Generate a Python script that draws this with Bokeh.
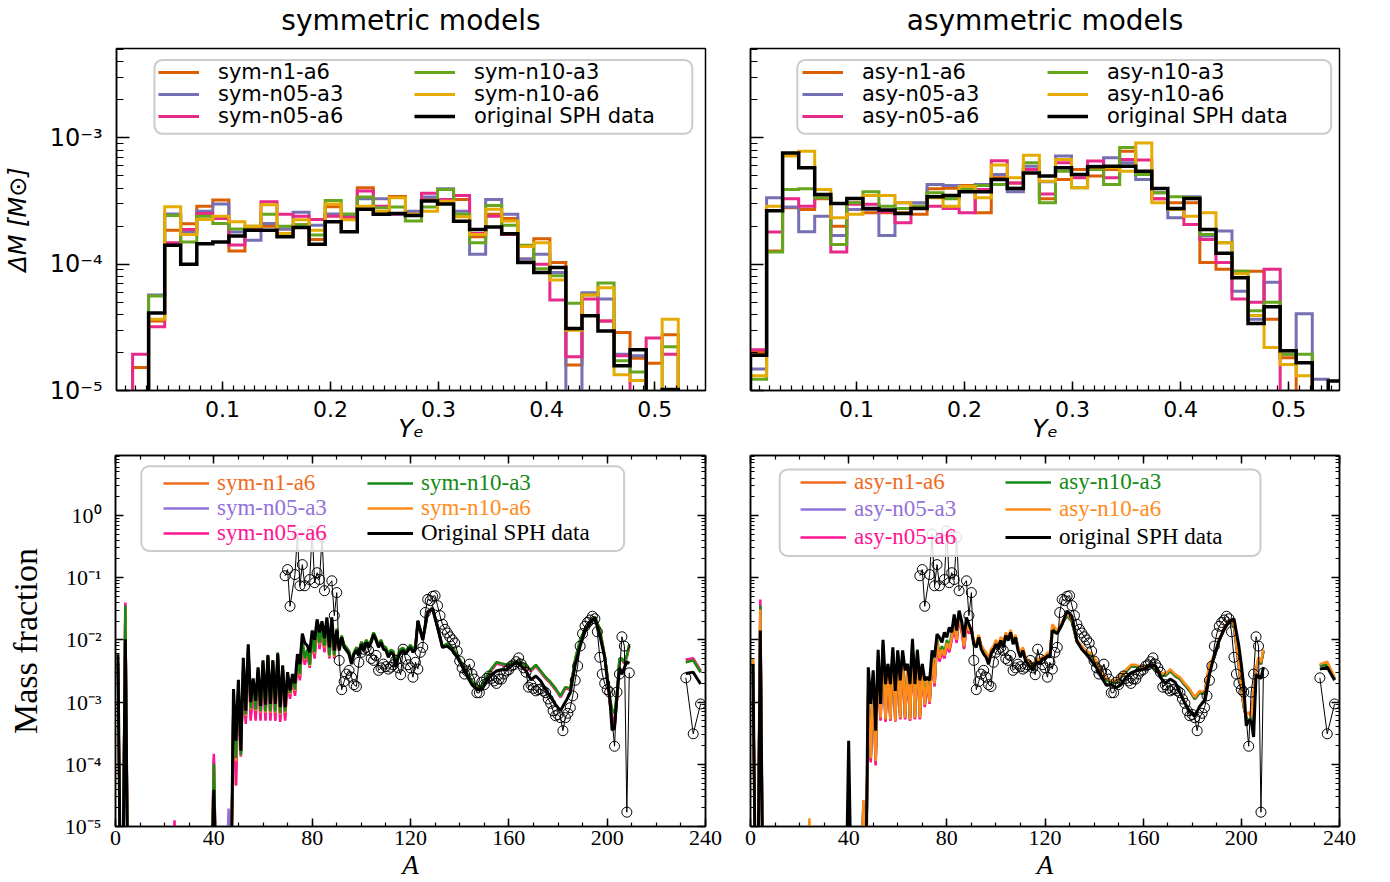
import numpy as np
from bokeh.plotting import figure
from bokeh.layouts import column, row
from bokeh.models import (Range1d, FixedTicker, CustomJSTickFormatter, Legend,
                          LegendItem, BoxAnnotation, LinearAxis, LogAxis)
from bokeh.embed import file_html
from bokeh.resources import INLINE

NAN = float("nan")

# ------------------------------------------------------------------ data
# Ye histogram bin edges
ye_edges = [0.0020, 0.0169, 0.0317, 0.0466, 0.0614, 0.0763, 0.0911, 0.1060, 0.1208, 0.1357,
            0.1505, 0.1654, 0.1802, 0.1951, 0.2099, 0.2248, 0.2396, 0.2545, 0.2693, 0.2842,
            0.2990, 0.3139, 0.3287, 0.3436, 0.3584, 0.3733, 0.3881, 0.4030, 0.4178, 0.4327,
            0.4475, 0.4624, 0.4772, 0.4921, 0.5069, 0.5218, 0.5366, 0.5515]

# Delta M per bin [Msun], symmetric models
hist_sym_n1a6 = [0, 1.52e-5, 3.55e-5, 1.86e-4, 2.09e-4, 2.88e-4, 3.22e-4, 1.27e-4, 1.88e-4, 2.0e-4,
                 1.9e-4, 2.05e-4, 1.57e-4, 2.85e-4, 2.35e-4, 4.03e-4, 2.48e-4, 3.44e-4, 2.48e-4, 3.3e-4,
                 3.25e-4, 3.25e-4, 1.65e-4, 2.48e-4, 2.3e-4, 1.1e-4, 1.59e-4, 1.03e-4, 1.59e-5, 5.8e-5,
                 3.55e-5, 2.88e-5, 1.8e-5, 1.64e-5, 2.76e-5, 0, 0]
hist_sym_n05a3 = [0, 0, 5.7e-5, 2.5e-4, 1.8e-4, 2.63e-4, 3.0e-4, 1.8e-4, 1.55e-4, 2.1e-4,
                  1.9e-4, 2.58e-4, 2.03e-4, 2.5e-4, 2.4e-4, 3.3e-4, 3.3e-4, 2.48e-4, 2.63e-4, 3.4e-4,
                  3.95e-4, 2.63e-4, 1.2e-4, 3.25e-4, 2.48e-4, 1.1e-4, 1.2e-4, 8.6e-5, 0, 5.95e-5,
                  5.3e-5, 1.94e-5, 1.88e-5, 0, 0, 0, 0]
hist_sym_n05a6 = [0, 1.94e-5, 3.2e-5, 1.48e-4, 1.88e-4, 2.52e-4, 2.3e-4, 1.42e-4, 1.86e-4, 3.12e-4,
                  2.48e-4, 2.4e-4, 2.26e-4, 2.4e-4, 2.35e-4, 3.8e-4, 2.88e-4, 2.5e-4, 2.48e-4, 3.65e-4,
                  3.25e-4, 3.5e-4, 1.75e-4, 2.4e-4, 1.72e-4, 1.03e-4, 1.0e-4, 5.2e-5, 1.85e-5, 5.3e-5,
                  3.55e-5, 1.88e-5, 0, 2.6e-5, 1.94e-5, 0, 0]
hist_sym_n10a3 = [0, 0, 5.6e-5, 2.43e-4, 1.5e-4, 2.4e-4, 2.1e-4, 1.9e-4, 2.0e-4, 2.48e-4,
                  2.0e-4, 2.05e-4, 1.7e-4, 3.2e-4, 2.5e-4, 3.4e-4, 2.8e-4, 2.83e-4, 2.2e-4, 2.83e-4,
                  3.9e-4, 2.48e-4, 1.48e-4, 2.92e-4, 2.03e-4, 1.41e-4, 9.2e-5, 8.1e-5, 4.9e-5, 5.7e-5,
                  7.1e-5, 1.72e-5, 1.4e-5, 0, 2.22e-5, 0, 0]
hist_sym_n10a6 = [0, 0, 3.66e-5, 2.85e-4, 1.72e-4, 2.26e-4, 2.4e-4, 2.17e-4, 2.0e-4, 2.95e-4,
                  1.75e-4, 2.25e-4, 1.86e-4, 3.0e-4, 2.25e-4, 2.88e-4, 2.63e-4, 3.35e-4, 2.48e-4, 2.63e-4,
                  3.15e-4, 2.37e-4, 1.72e-4, 2.72e-4, 2.2e-4, 1.38e-4, 1.48e-4, 7.5e-5, 3.0e-5, 5.7e-5,
                  6.5e-5, 1.33e-5, 1.2e-5, 0, 3.66e-5, 0, 0]
hist_sym_sph = [0, 0, 4.1e-5, 1.41e-4, 1.0e-4, 1.45e-4, 1.5e-4, 1.67e-4, 1.86e-4, 1.86e-4,
                1.65e-4, 1.95e-4, 1.44e-4, 2.17e-4, 1.81e-4, 2.72e-4, 2.48e-4, 2.52e-4, 2.43e-4, 3.16e-4,
                3.0e-4, 2.19e-4, 1.88e-4, 1.97e-4, 1.74e-4, 1.03e-4, 8.6e-5, 9.4e-5, 3.1e-5, 3.9e-5,
                2.96e-5, 1.57e-5, 2.1e-5, 0, 1.02e-5, 0, 0]

# Delta M per bin [Msun], asymmetric models
hist_asy_n1a6 = [2.0e-5, 1.27e-4, 2.8e-4, 2.71e-4, 3.3e-4, 2.0e-4, 3.06e-4, 2.55e-4, 2.55e-4, 2.55e-4,
                 2.48e-4, 3.95e-4, 4.0e-4, 4.2e-4, 2.55e-4, 4.83e-4, 4.4e-4, 5.62e-4, 3.3e-4, 4.68e-4,
                 5.62e-4, 4.98e-4, 5.62e-4, 7.85e-4, 5.13e-4, 3.3e-4, 3.06e-4, 3.06e-4, 1.03e-4, 9.1e-5,
                 8.8e-5, 8.8e-5, 3.66e-5, 1.82e-5, 0, 0, 0]
hist_asy_n05a3 = [1.48e-5, 3.36e-4, 2.83e-4, 1.81e-4, 2.4e-4, 1.69e-4, 2.71e-4, 2.71e-4, 1.69e-4, 3.06e-4,
                  3.06e-4, 4.27e-4, 4.2e-4, 3.9e-4, 4.27e-4, 5.13e-4, 3.74e-4, 5.97e-4, 4.5e-4, 7.17e-4,
                  5.13e-4, 5.97e-4, 6.95e-4, 6.34e-4, 4.68e-4, 3.67e-4, 2.33e-4, 3.42e-4, 1.67e-4, 1.83e-4,
                  6.1e-5, 3.66e-5, 7.2e-5, 1.94e-5, 4.05e-5, 1.23e-5, 0]
hist_asy_n05a6 = [2.1e-5, 1.8e-4, 3.3e-4, 2.88e-4, 3.36e-4, 1.25e-4, 2.98e-4, 2.98e-4, 2.6e-4, 2.13e-4,
                  2.88e-4, 2.88e-4, 2.76e-4, 2.55e-4, 3.9e-4, 6.6e-4, 4.4e-4, 5.62e-4, 3.6e-4, 6.34e-4,
                  4.83e-4, 6.55e-4, 4.83e-4, 6.74e-4, 6.67e-4, 3.3e-4, 2.71e-4, 2.06e-4, 1.57e-4, 1.03e-4,
                  5.3e-5, 5.0e-5, 9.1e-5, 0, 0, 0, 0]
hist_asy_n10a3 = [1.23e-5, 1.25e-4, 3.9e-4, 3.95e-4, 3.36e-4, 1.43e-4, 3.06e-4, 3.75e-4, 2.88e-4, 2.76e-4,
                  2.88e-4, 3.67e-4, 3.3e-4, 3.9e-4, 4.2e-4, 4.27e-4, 4.0e-4, 6.34e-4, 3.06e-4, 5.45e-4,
                  4.03e-4, 5.62e-4, 4.27e-4, 8.4e-4, 5.13e-4, 3.67e-4, 3.42e-4, 3.36e-4, 1.72e-4, 1.48e-4,
                  8.8e-5, 4.27e-5, 5.0e-5, 1.94e-5, 1.94e-5, 0, 0]
hist_asy_n10a6 = [1.31e-5, 2.88e-4, 7.17e-4, 7.85e-4, 3.9e-4, 2.33e-4, 2.48e-4, 3.5e-4, 3.5e-4, 3.06e-4,
                  2.76e-4, 3.36e-4, 2.88e-4, 4.13e-4, 3.36e-4, 6.1e-4, 4.83e-4, 7.3e-4, 4.54e-4, 6.74e-4,
                  4.03e-4, 5.8e-4, 5.8e-4, 5.45e-4, 9.1e-4, 3.06e-4, 2.71e-4, 2.4e-4, 2.55e-4, 1.48e-4,
                  8.4e-5, 3.93e-5, 2.19e-5, 1.61e-5, 1.31e-5, 0, 0]
hist_asy_sph = [1.9e-5, 2.65e-4, 7.6e-4, 5.8e-4, 3.57e-4, 3.03e-4, 3.31e-4, 2.76e-4, 2.68e-4, 2.52e-4,
                2.76e-4, 3.42e-4, 3.5e-4, 3.74e-4, 3.74e-4, 4.68e-4, 3.98e-4, 5.28e-4, 4.98e-4, 5.8e-4,
                5.13e-4, 5.9e-4, 5.97e-4, 5.97e-4, 5.45e-4, 3.98e-4, 2.76e-4, 3.31e-4, 1.88e-4, 1.22e-4,
                7.8e-5, 3.39e-5, 4.6e-5, 2.06e-5, 1.66e-5, 0, 1.19e-5]

# Mass number grid for abundance curves (low part, high part)
A_low = [1, 2, 3, 4, 5, 23, 24, 25, 39, 40, 41, 45, 46, 47] + list(range(48, 90))
A_high = list(range(90, 124)) + list(range(125, 198, 2)) + list(range(199, 210)) + [220, 232, 235, 238]

# log10(mass fraction), symmetric models (-6 = below plotted range)
sym_sph_low = [-2.23, -6, -6, -1.99, -6, -6, -6, -6, -6, -4.41, -6, -6, -6, -6,
               -2.79, -3.62, -2.64, -3.78, -2.29, -3.14, -2.07, -3.00, -2.62, -2.98,
               -2.44, -3.06, -2.33, -3.04, -2.25, -3.03, -2.33, -3.03, -2.22, -3.08,
               -2.41, -3.08, -2.52, -2.81, -2.55, -2.70, -2.23, -2.39, -1.90, -2.05,
               -2.09, -2.20, -1.85, -2.00, -1.67, -1.88, -1.70, -1.97, -1.64, -2.12,
               -1.64, -2.17]
sym_n10a3_low = [-2.35, -6, -6, -1.45, -6, -6, -6, -6, -6, -3.99, -6, -6, -6, -6,
                 -2.85, -3.90, -2.70, -3.85, -2.35, -3.20, -2.10, -3.10, -2.65, -3.12,
                 -2.46, -3.15, -2.35, -3.15, -2.24, -3.15, -2.33, -3.15, -2.20, -3.18,
                 -2.42, -3.15, -2.55, -2.85, -2.58, -2.80, -2.30, -2.55, -2.00, -2.30,
                 -2.15, -2.40, -1.95, -2.20, -1.72, -2.05, -1.80, -2.10, -1.70, -2.25,
                 -1.72, -2.25]
sym_n10a6_low = [-2.36, -6, -6, -1.47, -6, -6, -6, -6, -6, -4.00, -6, -6, -6, -6,
                 -2.86, -3.95, -2.71, -3.86, -2.36, -3.22, -2.11, -3.12, -2.66, -3.14,
                 -2.47, -3.17, -2.36, -3.17, -2.25, -3.17, -2.34, -3.17, -2.21, -3.20,
                 -2.43, -3.17, -2.56, -2.87, -2.59, -2.82, -2.31, -2.57, -2.01, -2.32,
                 -2.16, -2.42, -1.96, -2.22, -1.73, -2.07, -1.81, -2.12, -1.71, -2.27,
                 -1.73, -2.27]
sym_n05a6_low = [-2.40, -6, -6, -1.40, -6, -6, -4.90, -6, -6, -3.83, -6, -6, -6, -6,
                 -2.90, -4.34, -2.75, -3.88, -2.40, -3.35, -2.15, -3.30, -2.70, -3.30,
                 -2.50, -3.30, -2.38, -3.30, -2.27, -3.30, -2.36, -3.30, -2.24, -3.32,
                 -2.45, -3.30, -2.58, -2.95, -2.62, -2.90, -2.35, -2.65, -2.05, -2.40,
                 -2.20, -2.45, -2.00, -2.30, -1.76, -2.15, -1.84, -2.20, -1.74, -2.30,
                 -1.75, -2.30]
sym_n05a3_low = [-2.38, -6, -6, -1.42, -6, -6, -6, -6, -6, -3.90, -6, -6, -4.71, -6,
                 -2.88, -4.10, -2.72, -3.86, -2.38, -3.28, -2.12, -3.22, -2.68, -3.22,
                 -2.48, -3.22, -2.36, -3.22, -2.26, -3.22, -2.34, -3.22, -2.22, -3.25,
                 -2.44, -3.22, -2.56, -2.90, -2.60, -2.85, -2.32, -2.60, -2.02, -2.35,
                 -2.18, -2.42, -1.98, -2.25, -1.74, -2.10, -1.82, -2.15, -1.72, -2.28,
                 -1.74, -2.28]
sym_n1a6_low = [-2.42, -6, -6, -1.50, -6, -6, -6, -6, -6, -3.95, -6, -6, -5.20, -6,
                -2.90, -4.34, -2.74, -3.80, -2.40, -3.30, -2.14, -3.28, -2.70, -3.28,
                -2.50, -3.28, -2.38, -3.28, -2.27, -3.28, -2.36, -3.30, -2.23, -3.30,
                -2.45, -3.28, -2.58, -2.92, -2.60, -2.88, -2.34, -2.62, -2.04, -2.38,
                -2.18, -2.44, -2.00, -2.28, -1.75, -2.12, -1.83, -2.18, -1.73, -2.28,
                -1.74, -2.28]
sym_sph_high = [-1.85, -2.17, -1.96, -2.12, -2.17, -2.23, -2.39, -2.23, -2.17, -2.25,
                -2.07, -2.17, -2.04, -2.12, -2.04, -1.91, -2.01, -2.12, -2.04, -2.15,
                -2.17, -2.28, -2.20, -2.23, -2.44, -2.28, -2.20, -2.17, -2.23, -2.17,
                -2.12, -2.20, -2.15, -1.69,
                -2.00, -1.55, -1.50, -1.80, -2.12, -2.10, -2.17, -2.28, -2.42, -2.58,
                -2.72, -2.80, -2.80, -2.66, -2.56, -2.50, -2.48, -2.48, -2.42, -2.36,
                -2.42, -2.50, -2.64, -2.58, -2.66, -2.80, -2.92, -3.04, -3.14, -3.00,
                -2.85, -2.40, -2.10, -1.86, -1.73, -1.64, -1.93,
                -2.28, -2.62, -2.90, -3.45, -3.42, -2.90, -2.45, -2.55, -2.45, -2.35, -2.38,
                NAN, -2.54, -2.52, -2.71]
sym_models_high = [-1.82, -2.12, -1.93, -2.08, -2.12, -2.18, -2.33, -2.20, -2.12, -2.20,
                   -2.03, -2.12, -2.00, -2.08, -2.00, -1.88, -1.97, -2.08, -2.00, -2.10,
                   -2.12, -2.22, -2.16, -2.18, -2.36, -2.22, -2.15, -2.13, -2.18, -2.13,
                   -2.08, -2.15, -2.10, -1.70,
                   -1.98, -1.55, -1.48, -1.78, -2.10, -2.06, -2.12, -2.24, -2.38, -2.54,
                   -2.66, -2.74, -2.74, -2.58, -2.46, -2.36, -2.38, -2.40, -2.38, -2.35,
                   -2.36, -2.42, -2.48, -2.40, -2.50, -2.60, -2.68, -2.78, -2.90, -2.76,
                   -2.78, -2.31, -2.00, -1.82, -1.70, -1.63, -1.82,
                   -2.25, -2.55, -2.92, -3.12, -3.18, -2.85, -2.30, -2.30, -2.36, -2.25, -2.07,
                   NAN, -2.36, -2.33, -2.52]
sym_models_high_b = [-1.84, -2.14, -1.95, -2.10, -2.14, -2.20, -2.35, -2.22, -2.14, -2.22,
                     -2.05, -2.14, -2.02, -2.10, -2.02, -1.90, -1.99, -2.10, -2.02, -2.12,
                     -2.14, -2.24, -2.18, -2.20, -2.38, -2.24, -2.17, -2.15, -2.20, -2.15,
                     -2.10, -2.17, -2.12, -1.72,
                     -2.00, -1.57, -1.50, -1.80, -2.12, -2.08, -2.14, -2.26, -2.40, -2.56,
                     -2.68, -2.76, -2.76, -2.60, -2.48, -2.38, -2.40, -2.42, -2.40, -2.37,
                     -2.38, -2.44, -2.50, -2.42, -2.52, -2.62, -2.70, -2.80, -2.92, -2.78,
                     -2.80, -2.33, -2.02, -1.84, -1.72, -1.64, -1.84,
                     -2.27, -2.57, -3.00, -3.22, -3.40, -2.95, -2.32, -2.32, -2.38, -2.27, -2.10,
                     NAN, -2.32, -2.30, -2.50]

# log10(mass fraction), asymmetric models
asy_sph_low = [-2.39, -6, -6, -1.85, -6, -6, -6, -6, -6, -3.62, -6, -6, -6, -6,
               -2.44, -3.03, -2.49, -3.46, -2.16, -3.03, -2.00, -2.71, -2.39, -2.71,
               -2.12, -2.82, -2.17, -2.65, -2.17, -2.49, -2.39, -2.71, -1.99, -2.71,
               -2.17, -2.65, -2.39, -2.65, -2.60, -2.65, -2.17, -2.28, -1.91, -1.96,
               -2.04, -1.88, -1.96, -1.80, -1.88, -1.59, -1.85, -1.53, -1.69, -1.96,
               -1.64, -1.75]
asy_n10a6_low = [-2.31, -6, -6, -1.51, -6, -6, -4.87, -6, -6, -4.70, -6, -6, -4.58, -6,
                 -2.75, -3.90, -2.60, -3.95, -2.30, -3.25, -2.10, -3.28, -2.45, -3.28,
                 -2.20, -3.30, -2.22, -3.25, -2.22, -3.25, -2.42, -3.28, -2.02, -3.25,
                 -2.20, -3.25, -2.42, -3.05, -2.65, -3.00, -2.25, -2.70, -2.00, -2.30,
                 -2.15, -2.25, -2.05, -2.15, -1.95, -1.75, -2.00, -1.62, -1.80, -2.10,
                 -1.75, -1.85]
asy_n05a6_low = [-2.40, -6, -6, -1.35, -6, -6, -6, -6, -6, -4.80, -6, -6, -4.70, -6,
                 -2.80, -3.97, -2.65, -4.02, -2.35, -3.30, -2.15, -3.32, -2.50, -3.30,
                 -2.25, -3.30, -2.27, -3.28, -2.27, -3.28, -2.46, -3.30, -2.07, -3.28,
                 -2.25, -3.28, -2.46, -3.08, -2.70, -3.03, -2.30, -2.75, -2.05, -2.35,
                 -2.20, -2.30, -2.10, -2.20, -2.00, -1.80, -2.05, -1.65, -1.85, -2.15,
                 -1.80, -1.90]
asy_n10a3_low = [-2.31, -6, -6, -1.45, -6, -6, -6, -6, -6, -4.75, -6, -6, -4.65, -6,
                 -2.72, -3.88, -2.55, -3.90, -2.25, -3.22, -2.05, -3.25, -2.38, -3.25,
                 -2.15, -3.27, -2.18, -3.22, -2.18, -3.22, -2.38, -3.25, -1.98, -3.22,
                 -2.15, -3.22, -2.38, -3.02, -2.62, -2.97, -2.20, -2.65, -1.96, -2.25,
                 -2.10, -2.20, -2.00, -2.10, -1.90, -1.72, -1.95, -1.60, -1.76, -2.05,
                 -1.72, -1.82]
asy_n05a3_low = [-2.36, -6, -6, -1.48, -6, -6, -6, -6, -6, -4.72, -6, -6, -4.58, -6,
                 -2.78, -3.93, -2.62, -3.98, -2.32, -3.27, -2.12, -3.30, -2.47, -3.29,
                 -2.22, -3.31, -2.24, -3.26, -2.24, -3.26, -2.44, -3.29, -2.04, -3.26,
                 -2.22, -3.26, -2.44, -3.06, -2.67, -3.01, -2.27, -2.72, -2.02, -2.32,
                 -2.17, -2.27, -2.07, -2.17, -1.97, -1.77, -2.02, -1.63, -1.82, -2.12,
                 -1.77, -1.87]
asy_n1a6_low = [-2.38, -6, -6, -1.55, -6, -6, -6, -6, -6, -4.75, -6, -6, -5.00, -6,
                -2.78, -3.95, -2.63, -4.00, -2.33, -3.28, -2.13, -3.30, -2.48, -3.30,
                -2.23, -3.32, -2.25, -3.27, -2.25, -3.27, -2.45, -3.30, -2.05, -3.27,
                -2.23, -3.27, -2.45, -3.07, -2.68, -3.02, -2.28, -2.73, -2.03, -2.33,
                -2.18, -2.28, -2.08, -2.18, -1.98, -1.78, -2.03, -1.64, -1.83, -2.13,
                -1.78, -1.88]
asy_sph_high = [-1.85, -2.07, -2.12, -1.96, -2.15, -2.23, -2.28, -2.39, -2.23, -2.17,
                -2.07, -2.15, -2.01, -2.12, -1.93, -2.01, -1.88, -2.07, -1.96, -2.17,
                -2.28, -2.17, -2.33, -2.39, -2.44, -2.49, -2.39, -2.36, -2.39, -2.30,
                -2.31, -2.25, -2.28, -1.85,
                -1.90, -1.75, -1.53, -1.62, -2.02, -2.15, -2.24, -2.34, -2.45, -2.60,
                -2.73, -2.72, -2.77, -2.72, -2.60, -2.53, -2.50, -2.48, -2.46, -2.40,
                -2.42, -2.60, -2.70, -2.63, -2.68, -2.85, -3.02, -3.15, -3.23, -3.07,
                -2.97, -2.55, -2.25, -2.00, -1.83, -1.71, -1.66,
                -2.10, -2.40, -2.75, -3.38, -3.30, -3.30, -3.56, -2.55, -2.60, -2.62, -2.44,
                NAN, -2.47, -2.44, -2.65]
asy_models_high = [-1.80, -2.02, -2.05, -1.92, -2.08, -2.15, -2.20, -2.30, -2.15, -2.10,
                   -2.00, -2.08, -1.95, -2.05, -1.88, -1.96, -1.84, -2.00, -1.92, -2.10,
                   -2.20, -2.12, -2.27, -2.32, -2.38, -2.42, -2.33, -2.30, -2.33, -2.26,
                   -2.27, -2.20, -2.22, -1.75,
                   -1.85, -1.70, -1.58, -1.68, -2.00, -2.10, -2.18, -2.22, -2.35, -2.50,
                   -2.62, -2.65, -2.66, -2.55, -2.48, -2.40, -2.40, -2.44, -2.42, -2.39,
                   -2.45, -2.52, -2.55, -2.47, -2.55, -2.60, -2.70, -2.79, -2.92, -2.82,
                   -2.84, -2.39, -2.25, -1.98, -1.80, -1.67, -1.75,
                   -2.40, -2.75, -3.05, -3.22, -3.16, -3.24, -2.85, -2.45, -2.28, -2.36, -2.15,
                   NAN, -2.39, -2.35, -2.60]
asy_models_high_b = [-1.83, -2.05, -2.08, -1.95, -2.11, -2.18, -2.23, -2.33, -2.18, -2.13,
                     -2.03, -2.11, -1.98, -2.08, -1.91, -1.99, -1.87, -2.03, -1.95, -2.13,
                     -2.23, -2.15, -2.30, -2.35, -2.41, -2.45, -2.36, -2.33, -2.36, -2.29,
                     -2.30, -2.23, -2.25, -1.78,
                     -1.88, -1.73, -1.61, -1.71, -2.03, -2.13, -2.21, -2.25, -2.38, -2.53,
                     -2.65, -2.68, -2.69, -2.58, -2.51, -2.43, -2.43, -2.47, -2.45, -2.42,
                     -2.48, -2.55, -2.58, -2.50, -2.58, -2.63, -2.73, -2.82, -2.95, -2.85,
                     -2.87, -2.42, -2.28, -2.01, -1.83, -1.70, -1.78,
                     -2.43, -2.78, -3.08, -3.25, -3.30, -3.30, -2.90, -2.48, -2.31, -2.39, -2.18,
                     NAN, -2.42, -2.38, -2.63]

# reference abundances (open circles): mass number and log10(mass fraction)
circ_A = [69, 70, 71, 73, 74, 75, 76, 77, 79, 80, 81, 82, 83, 84, 85, 88, 89, 90, 91, 92,
          93, 94, 95, 96, 97, 98, 99, 100, 101, 102, 103, 104, 105, 106, 107, 108, 109, 110, 111, 112,
          113, 114, 115, 116, 117, 118, 119, 120, 121, 122, 123, 124, 125, 126, 127, 128, 129, 130, 131, 132,
          133, 134, 135, 136, 137, 138, 139, 140, 141, 142, 143, 144, 145, 146, 147, 148, 149, 150, 151, 152,
          153, 154, 155, 156, 157, 158, 159, 160, 161, 162, 163, 164, 165, 166, 167, 168, 169, 170, 171, 172,
          173, 174, 175, 176, 177, 178, 179, 180, 181, 182, 183, 184, 185, 186, 187, 188, 189, 190, 191, 192,
          193, 194, 195, 196, 197, 198, 199, 200, 201, 203, 204, 205, 206, 207, 208, 209, 220, 232, 235, 238]
circ_log = [-0.97, -0.87, -1.46, -0.95, -0.30, -1.13, -0.79, -1.13, -1.03, -0.25, -1.08, -0.92, -1.03, -0.35, -1.21, -1.05, -1.61, -1.24, -2.33, -2.80,
            -2.67, -2.55, -2.49, -2.60, -2.72, -2.75, -2.36, -2.20, -2.15, -2.12, -2.17, -2.30, -2.33, -2.25, -2.49, -2.45, -2.39, -2.43, -2.47, -2.44,
            -2.40, -2.33, -2.45, -2.56, -2.15, -2.31, -2.40, -2.45, -2.60, -2.36, -2.47, -2.20, -2.12, -1.56, -1.35, -1.37, -1.30, -1.29, -1.45, -1.61,
            -1.75, -1.83, -1.89, -1.95, -2.00, -2.05, -2.18, -2.34, -2.45, -2.55, -2.50, -2.39, -2.55, -2.63, -2.85, -2.85, -2.68, -2.72, -2.62, -2.58,
            -2.62, -2.66, -2.70, -2.63, -2.63, -2.55, -2.50, -2.48, -2.42, -2.40, -2.35, -2.29, -2.39, -2.45, -2.52, -2.76, -2.72, -2.78, -2.82, -2.80,
            -2.79, -2.82, -2.85, -2.95, -3.02, -3.14, -3.22, -3.20, -3.25, -3.46, -3.25, -3.18, -3.09, -2.90, -2.65, -2.42, -2.10, -1.90, -1.78, -1.72,
            -1.68, -1.62, -1.66, -1.87, -2.28, -2.55, -2.70, -2.80, -2.84, -3.71, -2.84, -2.55, -1.95, -2.10, -4.77, -2.53, NAN, -2.61, -3.51, -3.03]

# ------------------------------------------------------------------ helpers
SANS = "DejaVu Sans"
SERIF = "Liberation Serif"

LOG_CODE = """
const e = Math.round(Math.log10(tick));
const m = {"-": "\u207b", "0": "\u2070", "1": "\u00b9", "2": "\u00b2", "3": "\u00b3",
           "4": "\u2074", "5": "\u2075", "6": "\u2076", "7": "\u2077", "8": "\u2078", "9": "\u2079"};
let s = "";
for (const c of String(e)) { s += m[c]; }
return "10" + s;
"""
EMPTY_CODE = "return '';"


def log_minor(lo, hi):
    return [m * 10.0 ** e for e in range(lo, hi) for m in range(2, 10)]


def step_xy(edges, vals, floor=1e-8):
    xs = [edges[0]]
    ys = [floor]
    for i, v in enumerate(vals):
        vv = v if v > 0 else floor
        xs += [edges[i], edges[i + 1]]
        ys += [vv, vv]
    xs.append(edges[len(vals)])
    ys.append(floor)
    return xs, ys


def style_axis(ax, font, size, tin, tmin, show_labels=True):
    ax.major_label_text_font = font
    ax.major_label_text_font_size = size
    ax.major_label_text_color = "black"
    if not show_labels:
        ax.formatter = CustomJSTickFormatter(code=EMPTY_CODE)
    ax.major_tick_in = tin
    ax.major_tick_out = 0
    ax.minor_tick_in = tmin
    ax.minor_tick_out = 0
    ax.major_tick_line_color = "black"
    ax.minor_tick_line_color = "black"
    ax.major_tick_line_width = 1.5
    ax.minor_tick_line_width = 1.2
    ax.axis_line_color = "black"
    ax.axis_line_width = 1.5
    ax.axis_label_text_color = "black"


def base_fig(width, height, xr, yr, bl, br, bt, bb):
    p = figure(width=width, height=height, x_range=Range1d(*xr), y_range=Range1d(*yr),
               y_axis_type="log", output_backend="svg", toolbar_location=None,
               min_border_left=bl, min_border_right=br, min_border_top=bt, min_border_bottom=bb,
               background_fill_color="white", border_fill_color="white")
    p.xgrid.visible = False
    p.ygrid.visible = False
    p.outline_line_color = "black"
    p.outline_line_width = 1.5
    p.outline_line_alpha = 1.0
    return p


def box(left, right, bottom, top):
    kw = dict(left=left, right=right, bottom=bottom, top=top, fill_color="white", fill_alpha=0.85,
              line_color="#cccccc", line_width=2, line_alpha=1.0)
    if "border_radius" in BoxAnnotation.properties():
        kw["border_radius"] = 8
    return BoxAnnotation(**kw)


def one_legend(label, rend, loc, font, size, gw, gh, standoff, color="black"):
    return Legend(items=[LegendItem(label=label, renderers=[rend])], location=loc,
                  orientation="vertical",
                  label_text_font=font, label_text_font_size=size, label_text_color=color,
                  glyph_width=gw, glyph_height=gh, label_height=gh, label_standoff=standoff,
                  spacing=0, padding=0, margin=0,
                  background_fill_alpha=0, border_line_alpha=0)


# ------------------------------------------------------------------ top panels
hist_cols = ["#d95f02", "#7570b3", "#e7298a", "#66a61e", "#e6ab02", "black"]


def top_panel(title, width, bl, br, series, labels, show_ylab, box_lr, leg_x):
    p = base_fig(width, 445, (0.002, 0.547), (1e-5, 5.1e-3), bl, br, 45, 55)
    # panel title, placed as the label of a tick-less axis above the frame
    ax_title = LinearAxis(ticker=FixedTicker(ticks=[]), axis_label=title)
    ax_title.formatter = CustomJSTickFormatter(code=EMPTY_CODE)
    ax_title.major_tick_in = 0
    ax_title.major_tick_out = 0
    ax_title.minor_tick_in = 0
    ax_title.minor_tick_out = 0
    ax_title.axis_line_color = None
    ax_title.major_label_standoff = 0
    ax_title.axis_label_standoff = 12
    ax_title.axis_label_text_font = SANS
    ax_title.axis_label_text_font_size = "28px"
    ax_title.axis_label_text_font_style = "normal"
    ax_title.axis_label_text_color = "black"
    p.add_layout(ax_title, "above")

    p.xaxis.ticker = FixedTicker(ticks=[0.1, 0.2, 0.3, 0.4, 0.5],
                                 minor_ticks=[i / 100 for i in range(1, 55)])
    p.yaxis.ticker = FixedTicker(ticks=[1e-5, 1e-4, 1e-3], minor_ticks=log_minor(-5, -2))
    p.yaxis.formatter = CustomJSTickFormatter(code=LOG_CODE)
    style_axis(p.below[0], SANS, "22px", 9, 5)
    style_axis(p.yaxis[0], SANS, "24px", 13, 7, show_ylab)
    p.below[0].major_label_standoff = 10
    p.yaxis.major_label_standoff = 14
    p.below[0].axis_label = "Y\u2091"
    p.below[0].axis_label_text_font = SANS
    p.below[0].axis_label_text_font_style = "italic"
    p.below[0].axis_label_text_font_size = "25px"
    p.below[0].axis_label_standoff = -6
    if show_ylab:
        p.yaxis.axis_label = "\u0394M [M\u2299]"
        p.yaxis.axis_label_text_font = SANS
        p.yaxis.axis_label_text_font_style = "italic"
        p.yaxis.axis_label_text_font_size = "24px"
        p.yaxis.axis_label_standoff = 15
    rends = []
    for vals, col in zip(series, hist_cols):
        xs, ys = step_xy(ye_edges, vals)
        lw = 3.5 if col == "black" else 3
        rends.append(p.line(xs, ys, color=col, line_width=lw, line_join="miter"))
    p.add_layout(box(box_lr[0], box_lr[1], 10 ** -2.968, 10 ** -2.383))
    ys_ = [306, 284, 262]
    for i in range(6):
        loc = (leg_x[i // 3], ys_[i % 3])
        p.add_layout(one_legend(labels[i], rends[i], loc, SANS, "21px", 41, 22, 19))
    return p


p_tl = top_panel("symmetric models", 728, 115, 23,
                 [hist_sym_n1a6, hist_sym_n05a3, hist_sym_n05a6, hist_sym_n10a3, hist_sym_n10a6, hist_sym_sph],
                 ["sym-n1-a6", "sym-n05-a3", "sym-n05-a6", "sym-n10-a3", "sym-n10-a6", "original SPH data"],
                 True, (0.0371, 0.5348), (42, 298))
p_tr = top_panel("asymmetric models", 662, 22, 51,
                 [hist_asy_n1a6, hist_asy_n05a3, hist_asy_n05a6, hist_asy_n10a3, hist_asy_n10a6, hist_asy_sph],
                 ["asy-n1-a6", "asy-n05-a3", "asy-n05-a6", "asy-n10-a3", "asy-n10-a6", "original SPH data"],
                 False, (0.0453, 0.5393), (52, 297))

# ------------------------------------------------------------------ bottom panels
ab_cols = {"n1a6": "#f06a1c", "n05a3": "#9370db", "n05a6": "#ff1493", "n10a3": "#138a13", "n10a6": "#ff8c1a"}


def bottom_panel(width, bl, br, curves, draw_order, labels, black_label, show_ylab, box_lrbt, leg_pos):
    p = base_fig(width, 437, (0, 240), (1e-5, 9.2), bl, br, 10, 55)
    xt = FixedTicker(ticks=list(range(0, 241, 40)), minor_ticks=list(range(0, 241, 10)))
    yt = FixedTicker(ticks=[1e-5, 1e-4, 1e-3, 1e-2, 1e-1, 1.0], minor_ticks=log_minor(-5, 1))
    p.xaxis.ticker = xt
    p.yaxis.ticker = yt
    p.yaxis.formatter = CustomJSTickFormatter(code=LOG_CODE)
    style_axis(p.xaxis[0], SERIF, "22px", 8, 4)
    style_axis(p.yaxis[0], SERIF, "22px", 8, 4, show_ylab)
    p.xaxis.major_label_standoff = 4
    p.yaxis.major_label_standoff = 14
    p.xaxis.axis_label = "A"
    p.xaxis.axis_label_text_font = SERIF
    p.xaxis.axis_label_text_font_style = "italic"
    p.xaxis.axis_label_text_font_size = "27px"
    p.xaxis.axis_label_standoff = 2
    if show_ylab:
        p.yaxis.axis_label = "Mass fraction"
        p.yaxis.axis_label_text_font = SERIF
        p.yaxis.axis_label_text_font_style = "normal"
        p.yaxis.axis_label_text_font_size = "34px"
        p.yaxis.axis_label_standoff = 18
    ax_top = LinearAxis(ticker=xt)
    style_axis(ax_top, SERIF, "10px", 8, 4, False)
    p.add_layout(ax_top, "above")
    ax_right = LogAxis(ticker=yt)
    style_axis(ax_right, SERIF, "10px", 8, 4, False)
    p.add_layout(ax_right, "right")

    A = np.array(A_low + A_high, dtype=float)
    rends = {}
    for key in draw_order:
        low, high = curves[key]
        y = 10.0 ** np.array(low + high, dtype=float)
        rends[key] = p.line(A, y, color=ab_cols[key], line_width=2.5)
    low, high = curves["sph"]
    y = 10.0 ** np.array(low + high, dtype=float)
    r_black = p.line(A, y, color="black", line_width=3)
    cy = 10.0 ** np.array(circ_log, dtype=float)
    cx = np.array(circ_A, dtype=float)
    p.line(cx, cy, color="black", line_width=1)
    p.scatter(cx, cy, marker="circle", size=10, fill_alpha=0, line_color="black", line_width=1)

    p.add_layout(box(*box_lrbt))
    keys = ["n1a6", "n05a3", "n05a6", "n10a3", "n10a6"]
    for i, key in enumerate(keys):
        p.add_layout(one_legend(labels[i], rends[key], leg_pos[i], SERIF, "23px", 46, 26, 8,
                                color=ab_cols[key]))
    p.add_layout(one_legend(black_label, r_black, leg_pos[5], SERIF, "23px", 46, 26, 8))
    return p


sym_curves = {"sph": (sym_sph_low, sym_sph_high),
              "n1a6": (sym_n1a6_low, sym_models_high_b),
              "n05a3": (sym_n05a3_low, sym_models_high_b),
              "n05a6": (sym_n05a6_low, sym_models_high_b),
              "n10a3": (sym_n10a3_low, sym_models_high),
              "n10a6": (sym_n10a6_low, sym_models_high)}
asy_curves = {"sph": (asy_sph_low, asy_sph_high),
              "n1a6": (asy_n1a6_low, asy_models_high_b),
              "n05a3": (asy_n05a3_low, asy_models_high_b),
              "n05a6": (asy_n05a6_low, asy_models_high_b),
              "n10a3": (asy_n10a3_low, asy_models_high_b),
              "n10a6": (asy_n10a6_low, asy_models_high)}

p_bl = bottom_panel(728, 115, 23, sym_curves, ["n1a6", "n05a3", "n05a6", "n10a6", "n10a3"],
                    ["sym-n1-a6", "sym-n05-a3", "sym-n05-a6", "sym-n10-a3", "sym-n10-a6"],
                    "Original SPH data", True,
                    (10.5, 206.9, 10 ** -0.57, 10 ** 0.79),
                    [(48, 330), (48, 305), (48, 280), (252, 330), (252, 305), (252, 280)])
p_br = bottom_panel(662, 22, 51, asy_curves, ["n1a6", "n05a3", "n05a6", "n10a3", "n10a6"],
                    ["asy-n1-a6", "asy-n05-a3", "asy-n05-a6", "asy-n10-a3", "asy-n10-a6"],
                    "original SPH data", False,
                    (11.9, 207.8, 10 ** -0.65, 10 ** 0.74),
                    [(50, 331), (50, 304), (50, 276), (255, 331), (255, 304), (255, 276)])

layout = column(row(p_tl, p_tr), row(p_bl, p_br))
open("out.html", "w").write(file_html(layout, INLINE))
